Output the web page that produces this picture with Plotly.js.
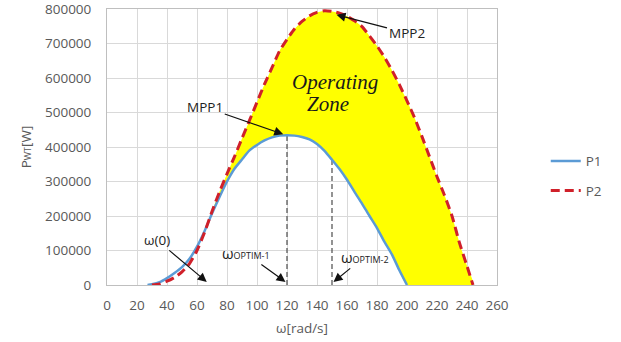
<!DOCTYPE html>
<html>
<head>
<meta charset="utf-8">
<script src="https://cdn.plot.ly/plotly-3.0.1.min.js"></script>
<style>html,body{margin:0;padding:0;background:#fff;}#chart{width:621px;height:342px;}</style>
</head>
<body>
<div id="chart"></div>
<script>
// ---- data ----
const omegaP1 = [27, 30, 35, 40, 45, 50, 55, 60, 65, 70, 75, 80, 85, 90, 95, 100, 105, 110, 115, 120,
                 125, 130, 135, 140, 145, 150, 155, 160, 165, 170, 175, 180, 185, 190, 195, 200];
const powerP1 = [0, 2000, 8000, 20000, 35000, 52000, 76000, 111000, 156000, 207000, 255000, 300000, 337000,
                 364000, 390000, 406000, 419000, 428000, 433000, 434000,
                 433000, 429000, 422000, 409000, 389000, 363000, 336000, 305000, 270000, 236000, 200000,
                 165000, 125000, 88000, 42000, 0];
const omegaP2 = [30, 35, 40, 45, 50, 55, 60, 65, 70, 75, 80, 85, 90, 95, 100, 105, 110, 115, 120, 125,
                 130, 135, 140, 145, 150, 155, 160, 165, 170, 175, 180, 185, 190, 195, 200, 205, 210,
                 215, 220, 225, 230, 235, 240, 244];
const powerP2 = [0, 3000, 11000, 22000, 38000, 62000, 100000, 152000, 213000, 270000, 322000, 372000,
                 425000, 477000, 530000, 582000, 630000, 678000, 712000, 742000,
                 764000, 780000, 790000, 795000, 793000, 788000, 779000, 766000, 749000, 722000, 693000,
                 660000, 622000, 580000, 534000, 485000, 430000, 372000, 314000, 260000, 200000, 122000,
                 55000, 0];
const optimOmega = [120, 150];          // ωOPTIM-1, ωOPTIM-2
const optimPower = [434000, 363000];    // P1 at those speeds
const fillStart = 70;
const xTicks = [0, 20, 40, 60, 80, 100, 120, 140, 160, 180, 200, 220, 240, 260];
const yTicks = [0, 100000, 200000, 300000, 400000, 500000, 600000, 700000, 800000];

// ---- build traces ----
const fx = [], fy = [];
omegaP2.forEach((w, i) => { if (w >= fillStart) { fx.push(w); fy.push(powerP2[i]); } });
for (let i = omegaP1.length - 1; i >= 0; i--) {
  if (omegaP1[i] >= fillStart) { fx.push(omegaP1[i]); fy.push(powerP1[i]); }
}

const traces = [
  {x: fx, y: fy, type: 'scatter', mode: 'lines', fill: 'toself', fillcolor: '#FFFF00',
   line: {width: 0, color: 'rgba(0,0,0,0)', shape: 'spline', smoothing: 0.6}, showlegend: false, hoverinfo: 'skip'}
];
optimOmega.forEach((w, i) => {
  traces.push({x: [w, w], y: [0, optimPower[i]], type: 'scatter', mode: 'lines',
    line: {color: '#595959', width: 1.3, dash: '5px,3px'}, showlegend: false, hoverinfo: 'skip'});
});
traces.push({x: omegaP1, y: powerP1, type: 'scatter', mode: 'lines', name: 'P1', legendgroup: 'a',
  line: {color: '#5B9BD5', width: 2.5, shape: 'spline', smoothing: 0.6}});
traces.push({x: omegaP2, y: powerP2, type: 'scatter', mode: 'lines', name: 'P2', legendgroup: 'b',
  line: {color: '#D0202A', width: 3, dash: '9px,5px', shape: 'spline', smoothing: 0.6}});

const txtFont = {family: 'Open Sans, Liberation Sans, sans-serif', size: 13.5, color: '#222'};
const arrow = {showarrow: true, arrowhead: 2, arrowsize: 1.5, arrowwidth: 1.2, arrowcolor: '#111', xref: 'x', yref: 'y'};

const annotations = [
  Object.assign({x: 117.5, y: 437000, ax: -78, ay: -27, text: 'MPP1', font: txtFont}, arrow),
  Object.assign({x: 153, y: 783000, ax: 70, ay: 18, text: 'MPP2', font: txtFont}, arrow),
  Object.assign({x: 66.5, y: 9000, ax: -50, ay: -42, text: 'ω(0)', font: txtFont}, arrow),
  Object.assign({x: 119, y: 9000, ax: -40, ay: -29,
    text: 'ω<span style="font-size:9px">OPTIM-1</span>', font: {family: txtFont.family, size: 15, color: '#222'}}, arrow),
  Object.assign({x: 151, y: 9000, ax: 31, ay: -25,
    text: 'ω<span style="font-size:9px">OPTIM-2</span>', font: {family: txtFont.family, size: 15, color: '#222'}}, arrow),
  {xref: 'paper', yref: 'paper', x: (335 - 106.7) / 390, y: (285 - 82) / 276, showarrow: false,
   xanchor: 'center', yanchor: 'middle',
   text: '<i>Operating</i>', font: {family: 'Liberation Serif, serif', size: 21, color: '#1a1a1a'}},
  {xref: 'paper', yref: 'paper', x: (328 - 106.7) / 390, y: (285 - 104) / 276, showarrow: false,
   xanchor: 'center', yanchor: 'middle',
   text: '<i>Zone</i>', font: {family: 'Liberation Serif, serif', size: 21, color: '#1a1a1a'}}
];

const axisFont = {family: 'Open Sans, Liberation Sans, sans-serif', size: 13.5, color: '#595959'};

const layout = {
  width: 621, height: 342,
  margin: {l: 107, r: 124, t: 9, b: 57},
  paper_bgcolor: '#fff', plot_bgcolor: '#fff',
  showlegend: true,
  legend: {x: 1.125, xanchor: 'left', y: 0.505, yanchor: 'top', font: axisFont,
           tracegroupgap: 9, traceorder: 'grouped', bgcolor: 'rgba(0,0,0,0)'},
  xaxis: {range: [0, 260], tickvals: xTicks, ticktext: xTicks.map(String),
          showgrid: true, gridcolor: '#d9d9d9', gridwidth: 1, zeroline: false,
          showline: true, linecolor: '#bfbfbf', linewidth: 1, mirror: true,
          ticks: 'outside', ticklen: 8, tickcolor: 'rgba(0,0,0,0)', ticklabeloverflow: 'allow',
          tickfont: axisFont, title: {text: 'ω[rad/s]', font: axisFont, standoff: 10}},
  yaxis: {range: [0, 800000], tickvals: yTicks, ticktext: yTicks.map(String),
          showgrid: true, gridcolor: '#d9d9d9', gridwidth: 1, zeroline: false,
          showline: true, linecolor: '#bfbfbf', linewidth: 1, mirror: true,
          ticks: 'outside', ticklen: 12, tickcolor: 'rgba(0,0,0,0)', ticklabeloverflow: 'allow',
          tickfont: axisFont,
          title: {text: 'P<span style="font-size:9px">WT</span>[W]', font: axisFont, standoff: 10}},
  annotations: annotations,
  hovermode: false
};

Plotly.newPlot('chart', traces, layout, {staticPlot: true, displayModeBar: false});
</script>
</body>
</html>
